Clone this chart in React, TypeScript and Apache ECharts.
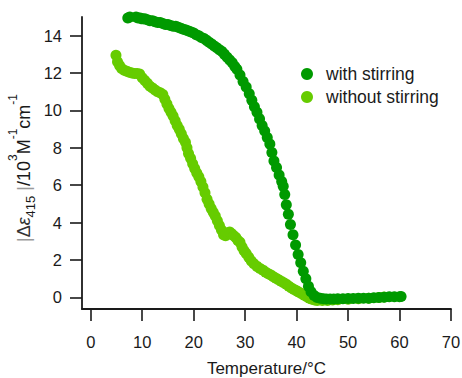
import React, { useEffect, useRef } from "react";
import * as echarts from "echarts";

// Temperature (°C) and |Δε415| (10³ M⁻¹ cm⁻¹) for the stirred sample
const withStirringT = [
  7.2, 7.6, 8.0, 8.4, 8.8, 9.2, 9.6, 10.0, 10.5, 11.0, 11.5, 12.0, 12.5, 13.0, 13.5, 14.0,
  14.5, 15.0, 15.5, 16.0, 16.5, 17.0, 17.5, 18.0, 18.5, 19.0, 19.5, 20.0, 20.5, 21.0, 21.5,
  22.0, 22.5, 23.0, 23.5, 24.0, 24.5, 25.0, 25.5, 26.0, 26.5, 27.0, 27.5, 28.0, 28.4, 29.0,
  29.6, 30.2, 30.8, 31.3, 31.8, 32.3, 32.8, 33.3, 33.8, 34.3, 34.8, 35.2, 35.6, 36.1, 36.6,
  37.1, 37.4, 37.7, 38.0, 38.4, 38.8, 39.3, 39.8, 40.3, 40.8, 41.3, 41.8, 42.3, 42.8, 43.4,
  44.0, 44.6, 45.2, 45.8, 46.5, 47.2, 48.0, 49.0, 50.0, 51.0, 52.0, 53.0, 54.0, 55.0, 56.0,
  57.0, 58.0, 59.0, 60.0, 60.3,
];
const withStirringV = [
  14.95, 15.0, 15.05, 15.05, 15.0, 14.95, 14.95, 14.9, 14.9, 14.85, 14.8, 14.8, 14.75, 14.7,
  14.7, 14.65, 14.6, 14.6, 14.55, 14.5, 14.5, 14.45, 14.4, 14.35, 14.3, 14.25, 14.2, 14.15,
  14.05, 14.0, 13.9, 13.85, 13.75, 13.65, 13.55, 13.45, 13.35, 13.25, 13.15, 13.0, 12.85,
  12.7, 12.55, 12.35, 12.2, 11.9, 11.55, 11.25, 10.9, 10.55, 10.2, 9.9, 9.55, 9.2, 8.9,
  8.55, 8.2, 7.75, 7.3, 6.95, 6.55, 6.2, 5.95, 5.5, 4.95, 4.45, 3.9, 3.35, 2.8, 2.3, 1.85,
  1.4, 1.0, 0.6, 0.3, 0.1, 0.0, -0.05, -0.07, -0.08, -0.08, -0.08, -0.07, -0.07, -0.06,
  -0.06, -0.05, -0.04, -0.04, -0.02, 0.0, 0.01, 0.03, 0.04, 0.04, 0.05,
];

// Temperature (°C) and |Δε415| (10³ M⁻¹ cm⁻¹) for the unstirred sample
const withoutStirringT = [
  4.9, 5.2, 5.6, 6.0, 6.5, 7.0, 7.5, 8.0, 8.5, 9.0, 9.5, 10.0, 10.5, 11.0, 11.5, 12.0, 12.5,
  13.0, 13.5, 14.0, 14.4, 14.8, 15.2, 15.6, 16.0, 16.4, 16.8, 17.2, 17.6, 18.0, 18.4, 18.7,
  19.0, 19.4, 19.8, 20.2, 20.6, 21.0, 21.4, 21.8, 22.2, 22.6, 23.0, 23.4, 23.8, 24.2, 24.6,
  25.0, 25.4, 25.8, 26.2, 26.6, 27.0, 27.4, 27.8, 28.2, 28.6, 29.0, 29.4, 29.8, 30.2, 30.7,
  31.2, 31.7, 32.3, 32.9, 33.5, 34.0, 34.5, 35.0, 35.5, 36.0, 36.5, 37.0, 37.5, 38.0, 38.5,
  39.0, 39.5, 40.0, 40.5, 41.0, 41.5, 42.0, 42.5, 43.0, 43.5, 44.0, 45.0, 46.0, 47.0, 48.0,
  50.0, 52.0, 54.0, 56.0, 57.0,
];
const withoutStirringV = [
  12.95, 12.6, 12.4, 12.25, 12.15, 12.1, 12.05, 12.0, 11.98, 11.98, 11.95, 11.75, 11.6,
  11.45, 11.3, 11.2, 11.1, 11.0, 10.95, 10.85, 10.6, 10.35, 10.1, 9.9, 9.7, 9.45, 9.2, 9.0,
  8.75, 8.5, 8.3, 8.0, 7.7, 7.45, 7.15, 6.9, 6.65, 6.45, 6.2, 5.9, 5.6, 5.25, 5.0, 4.75,
  4.55, 4.35, 4.1, 3.85, 3.6, 3.35, 3.3, 3.45, 3.5, 3.4, 3.3, 3.2, 3.05, 2.95, 2.7, 2.5,
  2.35, 2.15, 1.95, 1.8, 1.66, 1.55, 1.45, 1.35, 1.27, 1.2, 1.1, 1.02, 0.95, 0.87, 0.78,
  0.7, 0.6, 0.5, 0.42, 0.35, 0.28, 0.2, 0.12, 0.04, -0.04, -0.1, -0.14, -0.16, -0.17,
  -0.16, -0.14, -0.12, -0.1, -0.07, -0.04, 0.0, 0.02,
];

const xTicks = [0, 10, 20, 30, 40, 50, 60, 70];
const yTicks = [0, 2, 4, 6, 8, 10, 12, 14];

const DARK_GREEN = "#009a00";
const LIGHT_GREEN = "#66cc00";
const FONT = "'Liberation Sans', Arial, sans-serif";
const INK = "#1a1a1a";

const zip = (xs: number[], ys: number[]) => xs.map((x, i) => [x, ys[i]]);

export default function App() {
  const ref = useRef<HTMLDivElement>(null);

  useEffect(() => {
    if (!ref.current) return;
    const chart = echarts.init(ref.current, undefined, { renderer: "svg" });

    const axisCommon = {
      type: "value" as const,
      splitLine: { show: false },
      axisLine: { show: true, onZero: false, lineStyle: { color: INK, width: 1.8 } },
      axisTick: { show: true, inside: false, length: 12, lineStyle: { color: INK, width: 1.6 } },
    };

    chart.setOption({
      animation: false,
      backgroundColor: "#ffffff",
      textStyle: { fontFamily: FONT },
      grid: {
        left: 82,
        right: 11,
        top: 17,
        bottom: 69,
        containLabel: false,
        outerBoundsMode: "none",
      },
      legend: {
        orient: "vertical",
        left: 296,
        top: 60,
        itemWidth: 24,
        itemHeight: 12,
        itemGap: 5,
        data: [
          { name: "with stirring", icon: "circle" },
          { name: "without stirring", icon: "circle" },
        ],
        textStyle: { fontFamily: FONT, fontSize: 17.5, color: INK, padding: [0, 0, 0, 2] },
      },
      xAxis: {
        ...axisCommon,
        min: -1.7,
        max: 70,
        axisTick: { ...axisCommon.axisTick, customValues: xTicks },
        axisLabel: {
          customValues: xTicks,
          margin: 24,
          fontSize: 16.5,
          fontFamily: FONT,
          color: INK,
        },
        name: "Temperature/°C",
        nameLocation: "middle",
        nameGap: 51,
        nameMoveOverlap: false,
        nameTextStyle: { fontSize: 17, lineHeight: 17, fontFamily: FONT, color: INK },
      },
      yAxis: {
        ...axisCommon,
        min: -0.62,
        max: 15,
        axisTick: { ...axisCommon.axisTick, customValues: yTicks },
        axisLabel: {
          customValues: yTicks,
          margin: 20,
          fontSize: 16.5,
          fontFamily: FONT,
          color: INK,
        },
        name: "{g||}{d|Δ}{e|ε}{sub|415}{g| |}{n|/10}{sup|3}{n|M}{sup|-1}{n|cm}{sup|-1}",
        nameLocation: "middle",
        nameGap: 49,
        nameMoveOverlap: false,
        nameTextStyle: {
          fontFamily: FONT,
          fontSize: 18,
          color: INK,
          padding: [0, 10, 0, 0],
          rich: {
            g: { fontSize: 18, color: "#9a9a9a", fontFamily: FONT, lineHeight: 26, verticalAlign: "bottom" },
            d: { fontSize: 18, color: "#333", fontFamily: FONT, lineHeight: 26, verticalAlign: "bottom" },
            e: { fontSize: 18, color: "#333", fontStyle: "italic", fontFamily: FONT, lineHeight: 26, verticalAlign: "bottom" },
            n: { fontSize: 18, color: INK, fontFamily: FONT, lineHeight: 26, verticalAlign: "bottom" },
            sub: { fontSize: 13, color: INK, fontFamily: FONT, lineHeight: 26, verticalAlign: "bottom", padding: [0, 0, -4, 0] },
            sup: { fontSize: 12, color: INK, fontFamily: FONT, lineHeight: 26, verticalAlign: "top" },
          },
        },
      },
      series: [
        {
          name: "without stirring",
          type: "scatter",
          symbol: "circle",
          symbolSize: 11,
          itemStyle: { color: LIGHT_GREEN, opacity: 1 },
          data: zip(withoutStirringT, withoutStirringV),
          z: 2,
        },
        {
          name: "with stirring",
          type: "scatter",
          symbol: "circle",
          symbolSize: 11,
          itemStyle: { color: DARK_GREEN, opacity: 1 },
          data: zip(withStirringT, withStirringV),
          z: 3,
        },
      ],
    });

    return () => chart.dispose();
  }, []);

  return (
    <div
      ref={ref}
      style={{ position: "fixed", left: 0, top: 0, width: 462, height: 378 }}
    />
  );
}
